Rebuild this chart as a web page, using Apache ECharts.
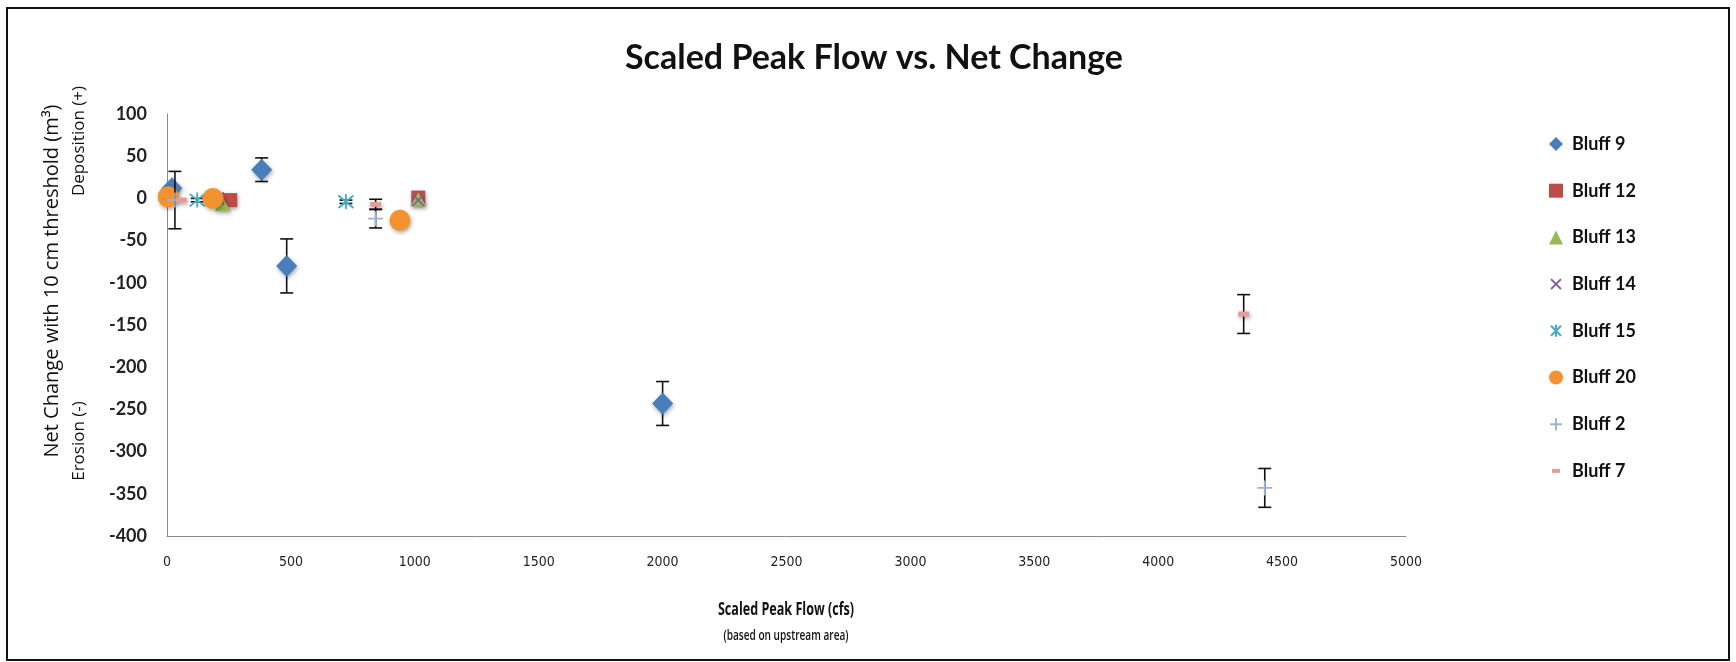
<!DOCTYPE html>
<html>
<head>
<meta charset="utf-8">
<title>Scaled Peak Flow vs. Net Change</title>
<script src="https://cdn.jsdelivr.net/npm/echarts@6/dist/echarts.min.js"></script>
<style>
  html, body { margin: 0; padding: 0; background: #fff; }
  #chart { width: 1736px; height: 662px; }
</style>
</head>
<body>
<div id="chart"></div>
<script>
// Each point: [scaled peak flow (cfs), net change (m3), error half-width (m3)]
const bluff9  = [[20, 12, 0], [382, 34, 14], [483, -80, 32], [2000, -243, 26]];
const bluff12 = [[255, -2, 0], [1014, 1, 0]];
const bluff13 = [[225, -7, 0], [1014, -1, 0]];
const bluff14 = [[205, 0, 0], [1014, -2, 0]];
const bluff15 = [[122, -2, 2], [722, -4, 2]];
const bluff20 = [[5, 2, 0], [185, 0, 0], [940, -26, 0]];
const bluff2  = [[32, -2, 34], [842, -24, 11], [4430, -343, 23]];
const bluff7  = [[58, -2, 0], [842, -7, 6], [4345, -137, 23]];

const seriesNames = ['Bluff 9', 'Bluff 12', 'Bluff 13', 'Bluff 14', 'Bluff 15', 'Bluff 20', 'Bluff 2', 'Bluff 7'];
const seriesData = [bluff9, bluff12, bluff13, bluff14, bluff15, bluff20, bluff2, bluff7];

const xTicks = { min: 0, max: 5000, interval: 500 };
const yTicks = { min: -400, max: 100, interval: 50 };

// marker shapes; the M-only corners in the legend icons keep a 14x14 box
const X_PATH = 'path://M0 0L10 10M10 0L0 10';
const STAR_PATH = 'path://M0 0L10 10M10 0L0 10M5 -1L5 11';
const PLUS_PATH = 'path://M5 0L5 10M0 5L10 5';
const DASH_ICON = 'path://M0 0L0 0M14 14L14 14M3 5L11 5L11 9L3 9Z';
const X_ICON = 'path://M0 0L0 0M14 14L14 14M2 2L12 12M12 2L2 12';
const STAR_ICON = 'path://M0 0L0 0M14 14L14 14M2 2L12 12M12 2L2 12M7 1L7 13';
const PLUS_ICON = 'path://M0 0L0 0M14 14L14 14M7 1L7 13M1 7L13 7';

const markerStyles = [
  { symbol: 'diamond', size: [21, 22], color: '#4A7EBB', icon: 'diamond' },
  { symbol: 'rect', size: 14, color: '#BE4B48', icon: 'rect' },
  { symbol: 'triangle', size: [16, 14], color: '#98B954', icon: 'triangle' },
  { symbol: X_PATH, size: 12, color: 'rgba(0,0,0,0)', border: '#7D60A0', bw: 1.6, icon: X_ICON },
  { symbol: STAR_PATH, size: 15, color: 'rgba(0,0,0,0)', border: '#46AAC5', bw: 1.8, icon: STAR_ICON },
  { symbol: 'circle', size: 21, color: '#F3922F', icon: 'circle' },
  { symbol: PLUS_PATH, size: 15, color: 'rgba(0,0,0,0)', border: '#9AB5DA', bw: 1.6, icon: PLUS_ICON },
  { symbol: 'rect', size: [11, 5], color: '#E59C9A', icon: DASH_ICON }
];

const shadow = { shadowBlur: 4, shadowColor: 'rgba(0,0,0,0.35)', shadowOffsetX: 1, shadowOffsetY: 2 };

function errorBarRender(params, api) {
  const x = api.value(0), y = api.value(1), e = api.value(2);
  const top = api.coord([x, y + e]);
  const bot = api.coord([x, y - e]);
  const hw = 6.5;
  const st = { stroke: '#111', lineWidth: 1.6 };
  return {
    type: 'group',
    children: [
      { type: 'line', shape: { x1: top[0], y1: top[1], x2: bot[0], y2: bot[1] }, style: st },
      { type: 'line', shape: { x1: top[0] - hw, y1: top[1], x2: top[0] + hw, y2: top[1] }, style: st },
      { type: 'line', shape: { x1: bot[0] - hw, y1: bot[1], x2: bot[0] + hw, y2: bot[1] }, style: st }
    ]
  };
}

const series = [];
seriesNames.forEach((name, i) => {
  const m = markerStyles[i];
  const withErr = seriesData[i].filter(p => p[2] > 0);
  if (withErr.length) {
    series.push({
      name: name + ' error',
      type: 'custom',
      renderItem: errorBarRender,
      data: withErr,
      z: 2 + i * 2,
      silent: true
    });
  }
  series.push({
    name: name,
    type: 'scatter',
    data: seriesData[i].map(p => [p[0], p[1]]),
    symbol: m.symbol,
    symbolSize: m.size,
    z: 3 + i * 2,
    itemStyle: Object.assign({
      color: m.color,
      borderColor: m.border || m.color,
      borderWidth: m.bw || 0,
      opacity: 1
    }, m.border ? {} : shadow)
  });
});

const chart = echarts.init(document.getElementById('chart'), null, { renderer: 'canvas' });

chart.setOption({
  animation: false,
  backgroundColor: '#fff',
  grid: { left: 167, right: 330, top: 114, bottom: 126, containLabel: false },
  title: {
    text: 'Scaled Peak Flow vs. Net Change',
    left: 869, top: 36, textAlign: 'center',
    textStyle: { fontFamily: 'Lato', fontWeight: 'bold', fontSize: 34, color: '#111' }
  },
  legend: {
    data: seriesNames.map((n, i) => ({ name: n, icon: markerStyles[i].icon })),
    orient: 'vertical',
    left: 1543, top: 130,
    itemWidth: 14, itemHeight: 14, itemGap: 28.7,
    symbolKeepAspect: true,
    textStyle: { fontFamily: 'Lato', fontWeight: 'bold', fontSize: 18, lineHeight: 16, color: '#111', padding: [0, 0, 0, 4] }
  },
  xAxis: {
    type: 'value',
    min: xTicks.min, max: xTicks.max, interval: xTicks.interval,
    splitLine: { show: false },
    axisTick: { show: false },
    axisLine: { onZero: false, lineStyle: { color: '#888', width: 1 } },
    axisLabel: {
      margin: 19, fontFamily: 'DejaVu Sans Condensed', fontSize: 14, color: '#222',
      formatter: v => String(v)
    }
  },
  yAxis: {
    type: 'value',
    min: yTicks.min, max: yTicks.max, interval: yTicks.interval,
    splitLine: { show: false },
    axisTick: { show: false },
    axisLine: { show: true, lineStyle: { color: '#888', width: 1 } },
    axisLabel: { margin: 20, fontFamily: 'Lato', fontWeight: 'bold', fontSize: 18, color: '#222' }
  },
  graphic: [
    { type: 'rect', shape: { x: 7, y: 8, width: 1722, height: 652 }, style: { fill: 'none', stroke: '#111', lineWidth: 2 }, silent: true },
    { type: 'text', x: 52, y: 281, rotation: Math.PI / 2,
      style: { text: 'Net Change with 10 cm threshold (m³)', fontFamily: 'Open Sans', fontSize: 20, fill: '#111', align: 'center', verticalAlign: 'middle' } },
    { type: 'text', x: 79, y: 141, rotation: Math.PI / 2,
      style: { text: 'Deposition (+)', fontFamily: 'Open Sans', fontSize: 17, fill: '#111', align: 'center', verticalAlign: 'middle' } },
    { type: 'text', x: 79, y: 441, rotation: Math.PI / 2,
      style: { text: 'Erosion (-)', fontFamily: 'Open Sans', fontSize: 17, fill: '#111', align: 'center', verticalAlign: 'middle' } },
    { type: 'text', x: 786, y: 610, scaleX: 0.74,
      style: { text: 'Scaled Peak Flow (cfs)', fontFamily: 'Open Sans', fontWeight: 'bold', fontSize: 17, fill: '#111', align: 'center', verticalAlign: 'middle' } },
    { type: 'text', x: 786, y: 636, scaleX: 0.72,
      style: { text: '(based on upstream area)', fontFamily: 'Open Sans', fontWeight: 600, fontSize: 14, fill: '#111', align: 'center', verticalAlign: 'middle' } }
  ],
  series: series
});
</script>
</body>
</html>
